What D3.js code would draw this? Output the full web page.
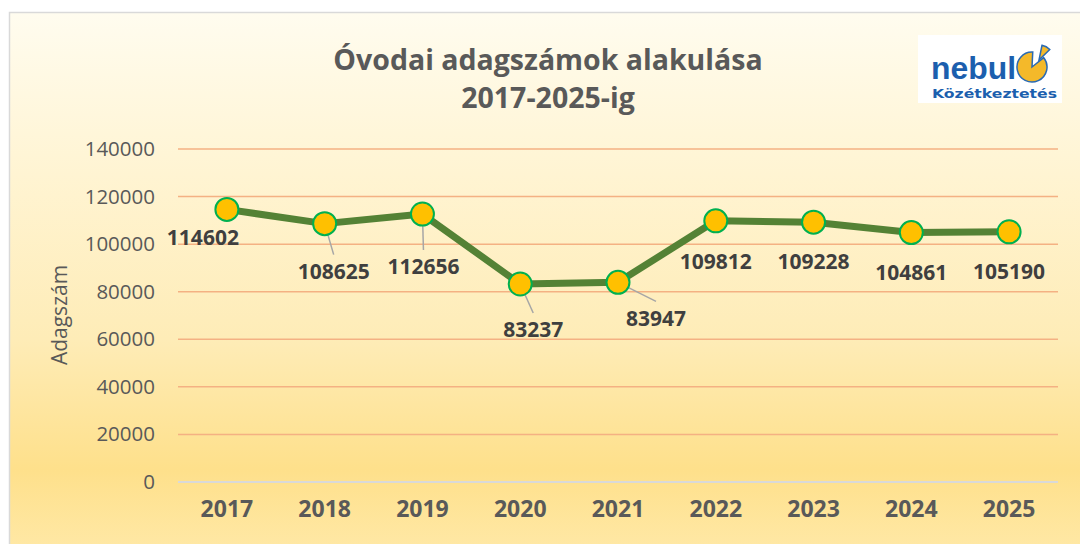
<!DOCTYPE html>
<html>
<head>
<meta charset="utf-8">
<script src="https://cdn.jsdelivr.net/npm/d3@7"></script>
<style>
  html, body { margin: 0; padding: 0; background: #fff; }
  svg { display: block; font-family: 'Open Sans', 'DejaVu Sans', sans-serif; }
</style>
</head>
<body>
<svg id="chart"></svg>
<script>
const years = ['2017', '2018', '2019', '2020', '2021', '2022', '2023', '2024', '2025'];
const portions = [114602, 108625, 112656, 83237, 83947, 109812, 109228, 104861, 105190];
const yTicks = [0, 20000, 40000, 60000, 80000, 100000, 120000, 140000];

// label offsets from the point (dx, dy) and whether a leader line is drawn
const labelOffsets = [
  [-24, 28, false], [9, 48, true], [1, 53, true], [13, 46, true], [38, 36, true],
  [0, 41, false], [0, 39, false], [0, 40, false], [0, 40, false]
];

const W = 1080, H = 544;
const svg = d3.select('#chart').attr('width', W).attr('height', H);

const defs = svg.append('defs');
const grad = defs.append('linearGradient')
  .attr('id', 'bg').attr('x1', 0).attr('y1', 0).attr('x2', 0).attr('y2', 1);
[[0, '#fffcef'], [0.3, '#fff4d2'], [0.6, '#feecb7'], [0.84, '#fee08b'], [1, '#ffe9a8']]
  .forEach(s => grad.append('stop').attr('offset', s[0]).attr('stop-color', s[1]));

svg.append('rect')
  .attr('x', 9.5).attr('y', 12.5).attr('width', W).attr('height', H)
  .attr('fill', 'url(#bg)')
  .attr('stroke', '#d9d9d9').attr('stroke-width', 1.5);

const x = d3.scaleBand().domain(years).range([178, 1058]);
const y = d3.scaleLinear().domain([0, 140000]).range([482, 149]);
const cx = d => x(d) + x.bandwidth() / 2;

// gridlines
svg.append('g').selectAll('line')
  .data(yTicks.filter(t => t > 0))
  .enter().append('line')
  .attr('x1', 178).attr('x2', 1058)
  .attr('y1', d => y(d)).attr('y2', d => y(d))
  .attr('stroke', '#f4b183').attr('stroke-width', 1.5);

svg.append('line')
  .attr('x1', 178).attr('x2', 1058)
  .attr('y1', y(0)).attr('y2', y(0))
  .attr('stroke', '#d9d9d9').attr('stroke-width', 2);

// y axis
const yAxis = svg.append('g')
  .attr('transform', 'translate(155, 0)')
  .call(d3.axisLeft(y).tickValues(yTicks).tickSize(0).tickPadding(0).tickFormat(d3.format('d')));
yAxis.select('.domain').remove();
yAxis.selectAll('text')
  .attr('fill', '#595959')
  .style('font-size', '20.5px')
  .style('font-family', "'Open Sans', sans-serif");

// x axis
const xAxis = svg.append('g')
  .attr('transform', 'translate(0, 500)')
  .call(d3.axisBottom(x).tickSize(0).tickPadding(0));
xAxis.select('.domain').remove();
xAxis.selectAll('text')
  .attr('fill', '#595959')
  .attr('dy', '0.75em')
  .style('font-size', '23px')
  .style('font-weight', 'bold')
  .style('font-family', "'Open Sans', sans-serif");

// axis title
svg.append('text')
  .attr('transform', 'translate(67, 315) rotate(-90)')
  .attr('text-anchor', 'middle')
  .attr('fill', '#595959')
  .style('font-size', '21px')
  .text('Adagszám');

// title
svg.append('text')
  .attr('x', 548).attr('y', 70)
  .attr('text-anchor', 'middle')
  .attr('fill', '#595959')
  .style('font-size', '28.5px')
  .style('font-weight', 'bold')
  .text('Óvodai adagszámok alakulása');
svg.append('text')
  .attr('x', 548).attr('y', 108)
  .attr('text-anchor', 'middle')
  .attr('fill', '#595959')
  .style('font-size', '28.5px')
  .style('font-weight', 'bold')
  .text('2017-2025-ig');

// line
const line = d3.line()
  .x((d, i) => cx(years[i]))
  .y(d => y(d));

svg.append('path')
  .datum(portions)
  .attr('fill', 'none')
  .attr('stroke', '#548235')
  .attr('stroke-width', 7)
  .attr('stroke-linejoin', 'round')
  .attr('d', line);

// leader lines
svg.append('g').selectAll('line')
  .data(portions.map((v, i) => ({v, i})).filter(d => labelOffsets[d.i][2]))
  .enter().append('line')
  .attr('x1', d => cx(years[d.i]))
  .attr('y1', d => y(d.v))
  .attr('x2', d => cx(years[d.i]) + labelOffsets[d.i][0])
  .attr('y2', d => y(d.v) + labelOffsets[d.i][1] - 17)
  .attr('stroke', '#a6a6a6')
  .attr('stroke-width', 1.5);

// points
svg.append('g').selectAll('circle')
  .data(portions)
  .enter().append('circle')
  .attr('cx', (d, i) => cx(years[i]))
  .attr('cy', d => y(d))
  .attr('r', 11.5)
  .attr('fill', '#ffc000')
  .attr('stroke', '#00b050')
  .attr('stroke-width', 2);

// data labels
svg.append('g').selectAll('text')
  .data(portions)
  .enter().append('text')
  .attr('x', (d, i) => cx(years[i]) + labelOffsets[i][0])
  .attr('y', (d, i) => y(d) + labelOffsets[i][1])
  .attr('dy', '0.35em')
  .attr('text-anchor', 'middle')
  .attr('fill', '#3f3f3f')
  .style('font-size', '21px')
  .style('font-weight', 'bold')
  .text(d => d);

// logo
const logo = svg.append('g');
logo.append('rect')
  .attr('x', 918).attr('y', 35).attr('width', 144).attr('height', 68)
  .attr('fill', '#ffffff');
logo.append('text')
  .attr('x', 931).attr('y', 79)
  .attr('textLength', 85).attr('lengthAdjust', 'spacingAndGlyphs')
  .attr('fill', '#1c5fae')
  .style('font-family', "'Liberation Sans', Arial, sans-serif")
  .style('font-size', '31px')
  .style('font-weight', 'bold')
  .text('nebul');
logo.append('text')
  .attr('x', 932).attr('y', 98)
  .attr('textLength', 125).attr('lengthAdjust', 'spacingAndGlyphs')
  .attr('fill', '#1c5fae')
  .style('font-family', "'DejaVu Sans', sans-serif")
  .style('font-size', '12px')
  .style('font-weight', 'bold')
  .text('Közétkeztetés');
const pieArc = d3.arc().innerRadius(0).outerRadius(15);
logo.append('path')
  .attr('transform', 'translate(1032, 67)')
  .attr('d', pieArc({startAngle: 0.9, endAngle: 2 * Math.PI + 0.05}))
  .attr('fill', '#f4b92a').attr('stroke', '#2a6ab3').attr('stroke-width', 1.5);
logo.append('path')
  .attr('transform', 'translate(1039, 60)')
  .attr('d', pieArc({startAngle: 0.2, endAngle: 0.8}))
  .attr('fill', '#f4b92a').attr('stroke', '#2a6ab3').attr('stroke-width', 1.5);
</script>
</body>
</html>
